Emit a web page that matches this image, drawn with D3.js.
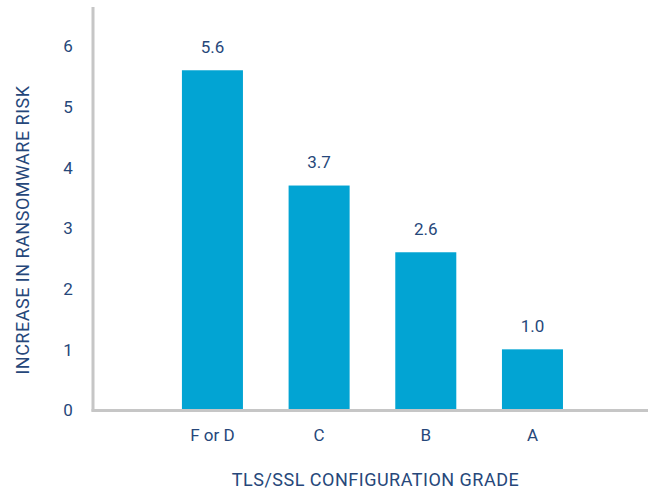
<!DOCTYPE html>
<html>
<head>
<meta charset="utf-8">
<script src="https://cdn.jsdelivr.net/npm/d3@7"></script>
<style>
  html, body { margin: 0; padding: 0; background: #fff; }
  svg { display: block; }
  text { font-family: Roboto, "Open Sans", sans-serif; fill: #26477a; }
</style>
</head>
<body>
<svg id="chart" width="649" height="489"></svg>
<script>
// Ransomware risk multiplier by TLS/SSL configuration grade
const grades = ["F or D", "C", "B", "A"];
const riskValues = [5.6, 3.7, 2.6, 1.0];
const valueLabels = ["5.6", "3.7", "2.6", "1.0"];
const yTicks = [0, 1, 2, 3, 4, 5, 6];

const svg = d3.select("#chart");
const barColor = "#02a4d3";
const axisColor = "#c6c6c6";
const textColor = "#26477a";

const x = d3.scaleBand()
  .domain(grades)
  .range([159.1, 585.8])
  .paddingInner(0.428)
  .paddingOuter(0.214);

const y = d3.scaleLinear().domain([0, 6]).range([410, 46]);

// bars
svg.append("g").selectAll("rect")
  .data(grades)
  .join("rect")
  .attr("x", d => x(d))
  .attr("width", x.bandwidth())
  .attr("y", (d, i) => y(riskValues[i]))
  .attr("height", (d, i) => y(0) - y(riskValues[i]))
  .attr("fill", barColor);

// value labels
svg.append("g").selectAll("text")
  .data(grades)
  .join("text")
  .attr("x", d => x(d) + x.bandwidth() / 2)
  .attr("y", (d, i) => y(riskValues[i]) - 17.5)
  .attr("text-anchor", "middle")
  .style("font-size", "17px")
  .text((d, i) => valueLabels[i]);

// y axis (labels only, line drawn separately)
const yAxis = d3.axisLeft(y).tickValues(yTicks).tickSize(0).tickPadding(0).tickFormat(d3.format("d"));
const gy = svg.append("g").attr("transform", "translate(74,0)").call(yAxis);
gy.select(".domain").remove();
gy.selectAll("text")
  .attr("x", -6)
  .attr("text-anchor", "middle")
  .attr("dy", "0.35em")
  .style("font-size", "17px")
  .style("font-family", "Roboto, sans-serif")
  .attr("fill", textColor);

// x axis (labels only)
const xAxis = d3.axisBottom(x).tickSize(0).tickPadding(0);
const gx = svg.append("g").attr("transform", "translate(0,441)").call(xAxis);
gx.select(".domain").remove();
gx.selectAll("text")
  .attr("y", 0)
  .attr("dy", 0)
  .style("font-size", "17px")
  .style("font-family", "Roboto, sans-serif")
  .attr("fill", textColor);

// axis lines
svg.append("line")
  .attr("x1", 93).attr("x2", 93)
  .attr("y1", 7).attr("y2", y(0) + 1.5)
  .attr("stroke", axisColor).attr("stroke-width", 3);
svg.append("line")
  .attr("x1", 91.5).attr("x2", 648)
  .attr("y1", y(0) + 0.5).attr("y2", y(0) + 0.5)
  .attr("stroke", axisColor).attr("stroke-width", 3);

// axis titles
svg.append("text")
  .attr("x", 375.5).attr("y", 486)
  .attr("text-anchor", "middle")
  .style("font-size", "18px")
  .style("letter-spacing", "0.5px")
  .text("TLS/SSL CONFIGURATION GRADE");

svg.append("text")
  .attr("transform", "translate(29,230) rotate(-90)")
  .attr("text-anchor", "middle")
  .style("font-size", "18px")
  .style("letter-spacing", "0.5px")
  .text("INCREASE IN RANSOMWARE RISK");
</script>
</body>
</html>
